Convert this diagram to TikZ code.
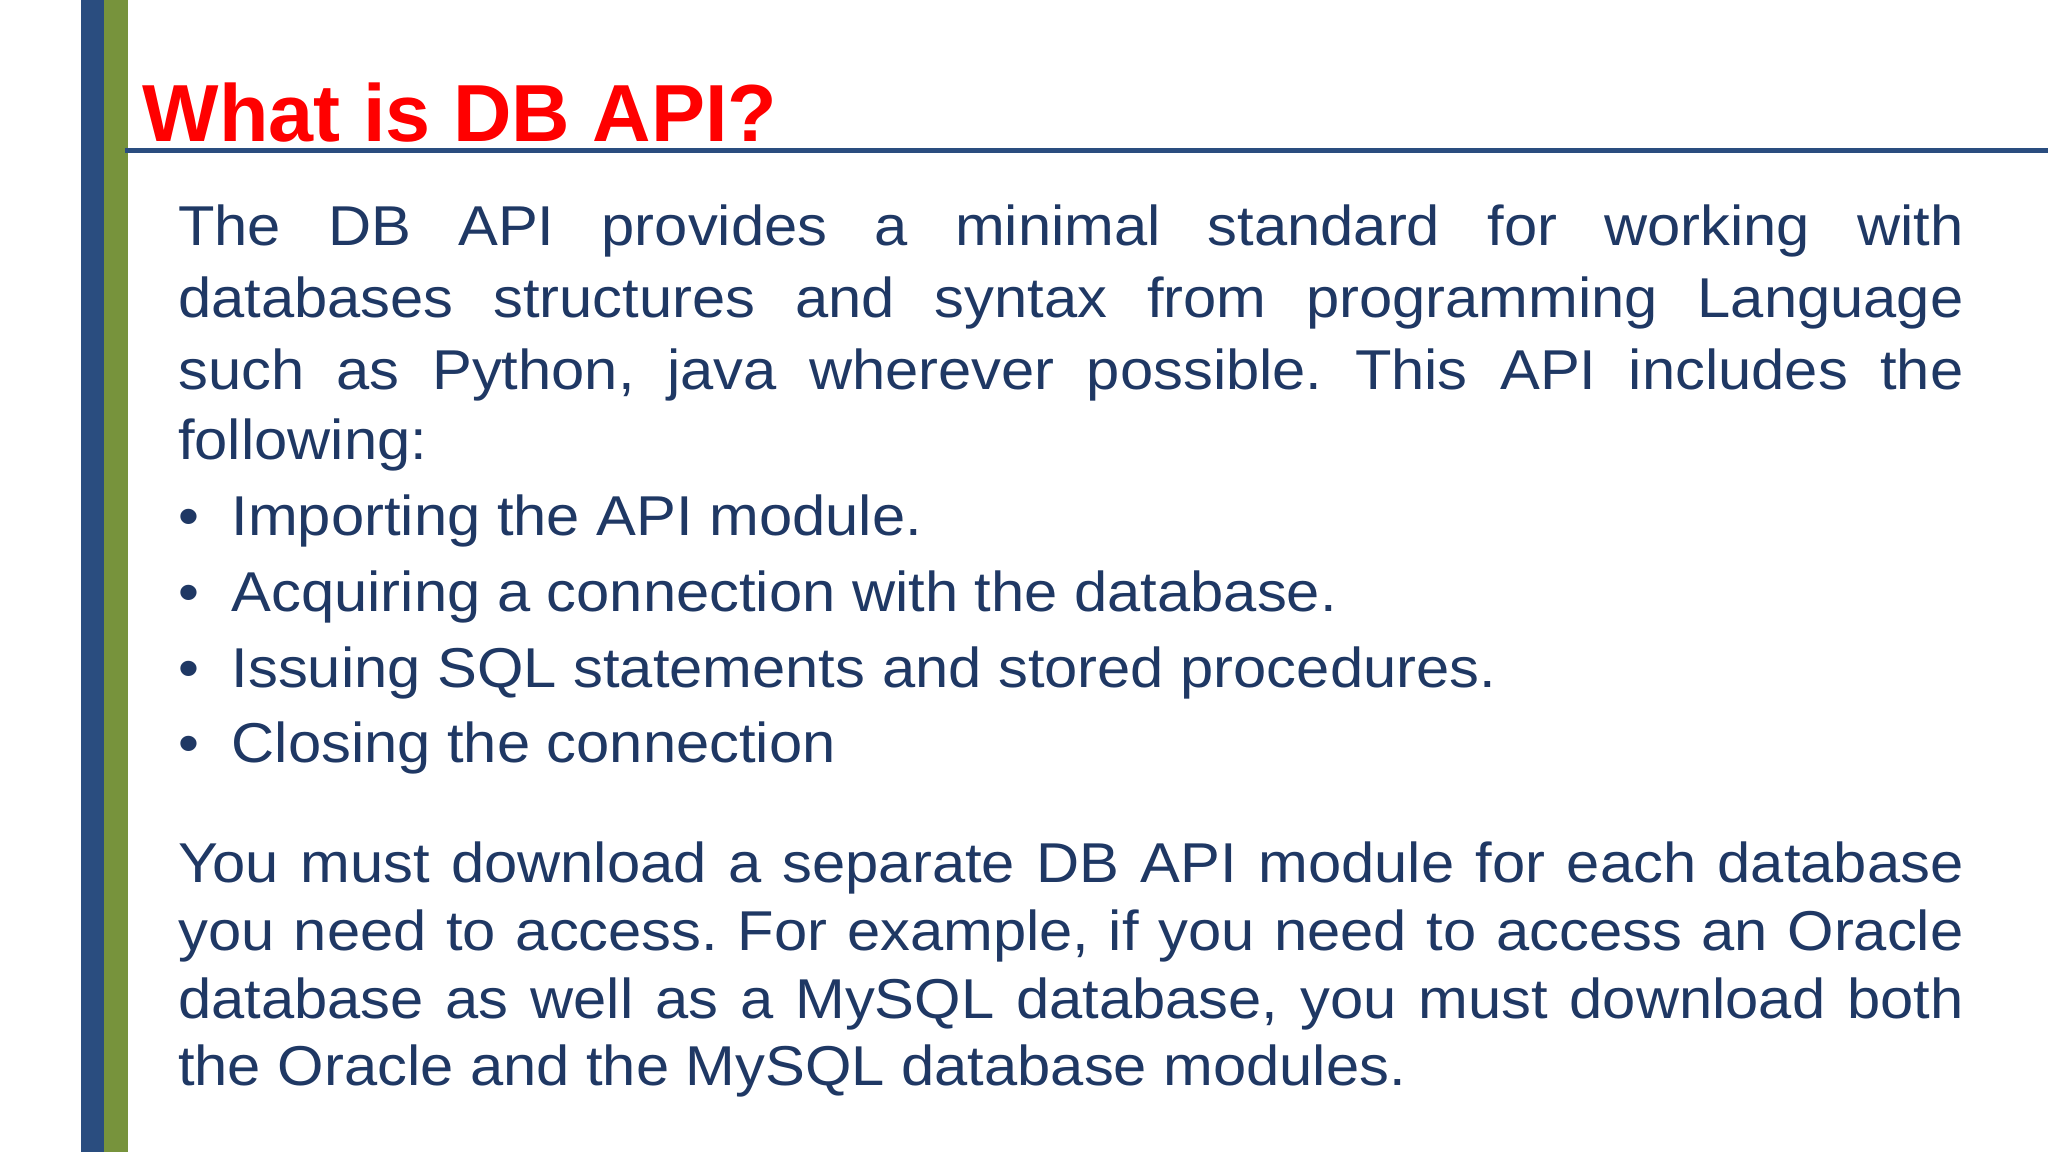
\documentclass[tikz,border=0pt]{standalone}
\usepackage{fontspec}
\setmainfont{Liberation Sans}
\newfontfamily\bodyfont[FakeStretch=1.063]{Liberation Sans}
\definecolor{txt}{HTML}{1F3864}
\definecolor{barblue}{HTML}{2A4D7F}
\definecolor{bargreen}{HTML}{77933C}
\begin{document}
\frenchspacing
\begin{tikzpicture}[x=0.5pt,y=-0.5pt,
  ln/.style={anchor=base west,inner sep=0pt,text=txt,font=\bodyfont\fontsize{21.5}{25}\selectfont}]
\useasboundingbox (0,0) rectangle (1568,882);
\fill[white] (0,0) rectangle (1568,882);
\fill[barblue] (62,0) rectangle (80,882);
\fill[bargreen] (80,0) rectangle (98,882);
\node[anchor=base west,inner sep=0pt,text=red,font=\fontsize{31}{36}\selectfont\bfseries] (title) at (109,108) {What is DB API?};
\draw[barblue,line width=2pt] (96,115) -- (1568,115);
\newcommand{\jl}[1]{\makebox[683.5pt][s]{#1}}
\node[ln] (p1) at (136,188) {\jl{The DB API provides a minimal standard for working with}};
\node[ln] (p2) at (136,243) {\jl{databases structures and syntax from programming Language}};
\node[ln] (p3) at (136,298) {\jl{such as Python, java wherever possible. This API includes the}};
\node[ln] (p4) at (136,352) {following:};
\node[ln] (b1) at (136,410) {•\hspace{12.5pt}Importing the API module.};
\node[ln] (b2) at (136,468) {•\hspace{12.5pt}Acquiring a connection with the database.};
\node[ln] (b3) at (136,526) {•\hspace{12.5pt}Issuing SQL statements and stored procedures.};
\node[ln] (b4) at (136,584) {•\hspace{12.5pt}Closing the connection};
\node[ln] (q1) at (136,676) {\jl{You must download a separate DB API module for each database}};
\node[ln] (q2) at (136,728) {\jl{you need to access. For example, if you need to access an Oracle}};
\node[ln] (q3) at (136,780) {\jl{database as well as a MySQL database, you must download both}};
\node[ln] (q4) at (136,831) {the Oracle and the MySQL database modules.};
\end{tikzpicture}
\end{document}
